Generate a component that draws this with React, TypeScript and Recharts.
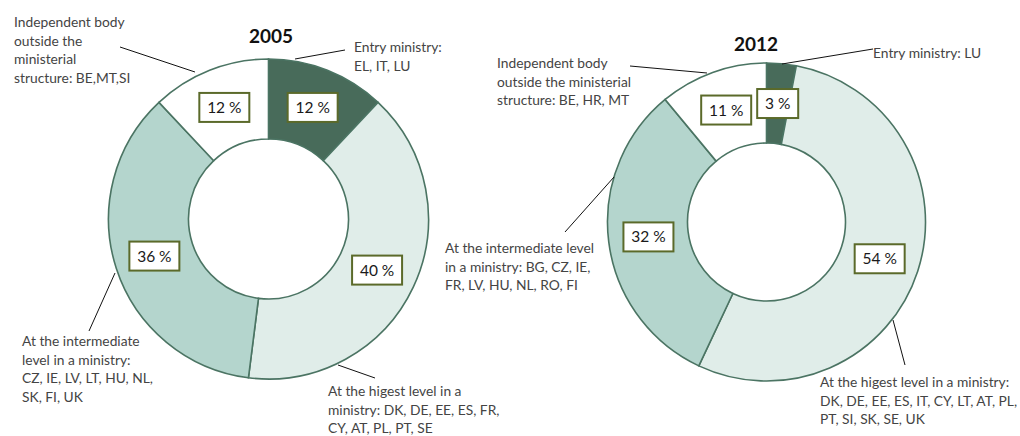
import React from "react"
import { Cell, Pie, PieChart } from "recharts"

const categories = [
  "Entry ministry",
  "At the higest level in a ministry",
  "At the intermediate level in a ministry",
  "Independent body outside the ministerial structure",
]
const values2005 = [12, 40, 36, 12]
const values2012 = [3, 54, 32, 11]
const valueLabels2005 = ["12 %", "40 %", "36 %", "12 %"]
const valueLabels2012 = ["3 %", "54 %", "32 %", "11 %"]

const colors = ["#486b5a", "#e0ede9", "#b4d5cd", "#ffffff"]
const strokeColor = "#4b7463"
const boxBorder = "#5b6a2a"
const textColor = "#444"
const font = "Lato, 'Open Sans', sans-serif"

const data2005 = categories.map((name, i) => ({ name, value: values2005[i], label: valueLabels2005[i] }))
const data2012 = categories.map((name, i) => ({ name, value: values2012[i], label: valueLabels2012[i] }))

// callout texts with leader lines (annotation layout)
const callouts = [
  { x: 14, y: 27, lines: ["Independent body", "outside the", "ministerial", "structure: BE,MT,SI"], line: [120, 47, 195, 72] },
  { x: 354, y: 52, lines: ["Entry ministry:", "EL, IT, LU"], line: [345, 50, 295, 59] },
  { x: 22, y: 346, lines: ["At the intermediate", "level in a ministry:", "CZ, IE, LV, LT, HU, NL,", "SK, FI, UK"], line: [115, 273, 89, 331] },
  { x: 328, y: 396, lines: ["At the higest level in a", "ministry: DK, DE, EE, ES, FR,", "CY, AT, PL, PT, SE"], line: [338, 365, 375, 378] },
  { x: 497, y: 68, lines: ["Independent body", "outside the ministerial", "structure: BE, HR, MT"], line: [630, 66, 707, 73] },
  { x: 873, y: 58, lines: ["Entry ministry: LU"], line: [873, 49, 782, 64] },
  { x: 445, y: 253, lines: ["At the intermediate level", "in a ministry: BG, CZ, IE,", "FR, LV, HU, NL, RO, FI"], line: [565, 232, 614, 177] },
  { x: 820, y: 387, lines: ["At the higest level in a ministry:", "DK, DE, EE, ES, IT, CY, LT, AT, PL,", "PT, SI, SK, SE, UK"], line: [893, 320, 905, 365] },
]

const RADIAN = Math.PI / 180

const renderBox = (props: any) => {
  const { cx, cy, midAngle, innerRadius, outerRadius, payload } = props
  const r = (innerRadius + outerRadius) / 2
  const x = cx + r * Math.cos(-midAngle * RADIAN)
  const y = cy + r * Math.sin(-midAngle * RADIAN)
  const text = payload.label
  const w = 14 + text.length * 9
  const h = 29
  return (
    <g>
      <rect x={x - w / 2} y={y - h / 2} width={w} height={h} fill="#fff" stroke={boxBorder} strokeWidth={2} />
      <text x={x} y={y + 5.5} textAnchor="middle" fontSize={15.5} fill="#1a1a1a" fontFamily={font}>
        {text}
      </text>
    </g>
  )
}

export default function App() {
  return (
    <div style={{ position: "absolute", left: 0, top: 0, width: 1020, height: 436, background: "#fff" }}>
      <PieChart width={1020} height={436} margin={{ top: 0, right: 0, bottom: 0, left: 0 }}>
        <Pie
          data={data2005}
          dataKey="value"
          cx={268.5}
          cy={219}
          innerRadius={80}
          outerRadius={160}
          startAngle={90}
          endAngle={-270}
          label={renderBox}
          labelLine={false}
          isAnimationActive={false}
        >
          {data2005.map((d, i) => (
            <Cell key={d.name} fill={colors[i]} stroke={strokeColor} strokeWidth={1.6} />
          ))}
        </Pie>
        <Pie
          data={data2012}
          dataKey="value"
          cx={766.5}
          cy={222}
          innerRadius={79}
          outerRadius={159}
          startAngle={90}
          endAngle={-270}
          label={renderBox}
          labelLine={false}
          isAnimationActive={false}
        >
          {data2012.map((d, i) => (
            <Cell key={d.name} fill={colors[i]} stroke={strokeColor} strokeWidth={1.6} />
          ))}
        </Pie>
      </PieChart>
      <svg width={1020} height={436} style={{ position: "absolute", left: 0, top: 0, pointerEvents: "none" }}>
        <text x={271} y={43} textAnchor="middle" fontSize={19} fontWeight="bold" fill="#111" fontFamily={font}>
          2005
        </text>
        <text x={756} y={51} textAnchor="middle" fontSize={19} fontWeight="bold" fill="#111" fontFamily={font}>
          2012
        </text>
        {callouts.map((c, i) => (
          <g key={i}>
            <line x1={c.line[0]} y1={c.line[1]} x2={c.line[2]} y2={c.line[3]} stroke="#111" strokeWidth={1} />
            <text x={c.x} y={c.y} fontSize={13.8} fill={textColor} fontFamily={font}>
              {c.lines.map((l, j) => (
                <tspan key={j} x={c.x} dy={j === 0 ? 0 : 18.7}>
                  {l}
                </tspan>
              ))}
            </text>
          </g>
        ))}
      </svg>
    </div>
  )
}
